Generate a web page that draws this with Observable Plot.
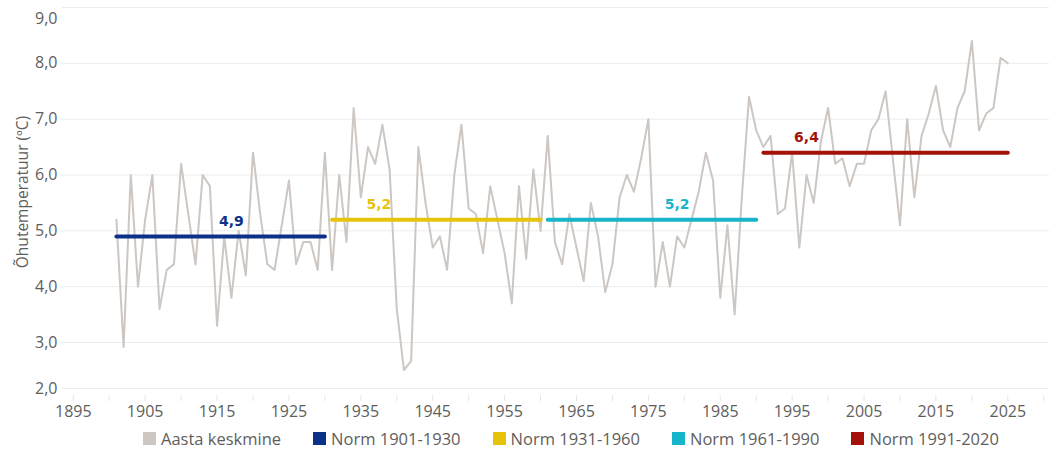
<!DOCTYPE html>
<html><head><meta charset="utf-8">
<script src="https://cdn.jsdelivr.net/npm/d3@7"></script>
<script src="https://cdn.jsdelivr.net/npm/@observablehq/plot@0.6"></script>
<style>
body{margin:0;background:#fff;font-family:"Open Sans",sans-serif;}
#legend{display:flex;gap:32px;padding-left:143px;height:26px;align-items:center;font-size:16.5px;color:#605e5c;white-space:nowrap;}
.item{display:flex;align-items:center;gap:5px}
.sw{width:13px;height:13px;display:inline-block}
</style></head><body>
<div id="chart"></div><div id="legend"></div>
<script>
const years = d3.range(1901, 2026);
const temps = [
  5.2, 2.9, 6.0, 4.0, 5.2, 6.0, 3.6, 4.3, 4.4, 6.2,
  5.3, 4.4, 6.0, 5.8, 3.3, 4.9, 3.8, 5.0, 4.2, 6.4,
  5.3, 4.4, 4.3, 5.1, 5.9, 4.4, 4.8, 4.8, 4.3, 6.4,
  4.3, 6.0, 4.8, 7.2, 5.6, 6.5, 6.2, 6.9, 6.1, 3.6,
  2.4, 2.6, 6.5, 5.5, 4.7, 4.9, 4.3, 6.0, 6.9, 5.4,
  5.3, 4.6, 5.8, 5.2, 4.6, 3.7, 5.8, 4.5, 6.1, 5.0,
  6.7, 4.8, 4.4, 5.3, 4.7, 4.1, 5.5, 4.9, 3.9, 4.4,
  5.6, 6.0, 5.7, 6.3, 7.0, 4.0, 4.8, 4.0, 4.9, 4.7,
  5.2, 5.7, 6.4, 5.9, 3.8, 5.1, 3.5, 5.6, 7.4, 6.8,
  6.5, 6.7, 5.3, 5.4, 6.4, 4.7, 6.0, 5.5, 6.6, 7.2,
  6.2, 6.3, 5.8, 6.2, 6.2, 6.8, 7.0, 7.5, 6.3, 5.1,
  7.0, 5.6, 6.7, 7.1, 7.6, 6.8, 6.5, 7.2, 7.5, 8.4,
  6.8, 7.1, 7.2, 8.1, 8.0
];
const seriesName = "Aasta keskmine";
const lineColor = "#cdc7c3";
const normNames = ["Norm 1901-1930", "Norm 1931-1960", "Norm 1961-1990", "Norm 1991-2020"];
const normStart = [1901, 1931, 1961, 1991];
const normEnd = [1930, 1960, 1990, 2025];
const normValue = [4.9, 5.2, 5.2, 6.4];
const normLabelYear = [1917, 1937.5, 1979, 1997];
const normColors = ["#0b3189", "#e8c30c", "#16b5c9", "#a31108"];
const yTicks = [2, 3, 4, 5, 6, 7, 8, 9];
const xTicks = d3.range(1895, 2031, 5);
const yTitle = "Õhutemperatuur (ºC)";

const fmt = v => v.toFixed(1).replace(".", ",");
// the reference's lowest band (2–3) is drawn a little shorter than the others
const squeeze = 46 / 55.8;
const yTransform = v => v < 3 ? 3 - (3 - v) * squeeze : v;
const data = years.map((year, i) => ({year, value: temps[i]}));
const norms = normValue.map((v, i) => ({start: normStart[i], end: normEnd[i], value: v, label: normLabelYear[i], color: normColors[i]}));

const plot = Plot.plot({
  width: 1049, height: 425,
  marginLeft: 62, marginRight: 0, marginTop: 0, marginBottom: 30,
  style: {fontFamily: "Open Sans", fontSize: "16px", color: "#605e5c", background: "#fff", overflow: "visible"},
  x: {domain: [1893.5, 2030.8]},
  y: {transform: yTransform, domain: [yTransform(2), 9], range: [388, 7]},
  color: {type: "identity"},
  marks: [
    Plot.gridY(yTicks, {stroke: "#ececec", strokeOpacity: 1, strokeWidth: 1}),
    Plot.axisY(yTicks.filter(t => t < 9), {tickSize: 0, tickPadding: 5, tickFormat: fmt, label: null, fill: "#605e5c"}),
    Plot.axisY([9], {tickSize: 0, tickPadding: 5, tickFormat: fmt, label: null, dy: 11, fill: "#605e5c"}),
    Plot.axisX(xTicks, {tickSize: 6, tickPadding: 4, stroke: "#e6e6e6", fill: "#605e5c", tickFormat: d => d % 10 === 5 ? String(d) : "", label: null}),
    Plot.lineY(data, {x: "year", y: "value", stroke: lineColor, strokeWidth: 2}),
    Plot.link(norms, {x1: "start", x2: "end", y1: "value", y2: "value", stroke: "color", strokeWidth: 4, strokeLinecap: "round"}),
    Plot.text(norms, {x: "label", y: "value", text: d => fmt(d.value), fill: "color", dy: -15, fontFamily: "DejaVu Sans", fontWeight: "bold", fontSize: 14}),
    Plot.text([yTitle], {text: d => d, frameAnchor: "left", textAnchor: "middle", rotate: -90, dx: -39, dy: -6, fontSize: 15.5, fill: "#605e5c"})
  ]
});
document.getElementById("chart").appendChild(plot);

const legendItems = [{name: seriesName, color: lineColor}, ...normNames.map((n, i) => ({name: n, color: normColors[i]}))];
const legend = document.getElementById("legend");
for (const it of legendItems) {
  const el = document.createElement("div");
  el.className = "item";
  const sw = document.createElement("span");
  sw.className = "sw";
  sw.style.background = it.color;
  const tx = document.createElement("span");
  tx.textContent = it.name;
  el.appendChild(sw); el.appendChild(tx);
  legend.appendChild(el);
}
</script>
</body></html>
